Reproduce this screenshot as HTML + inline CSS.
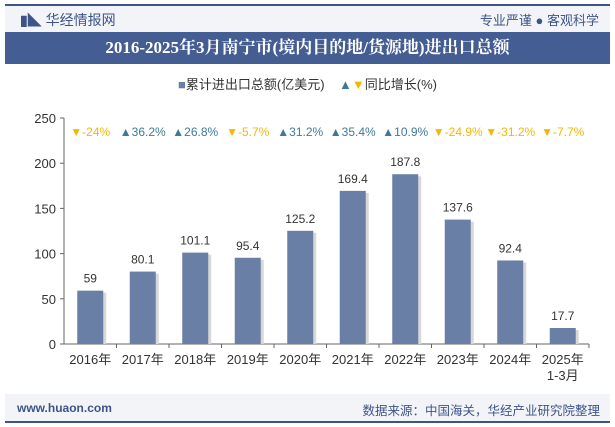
<!DOCTYPE html>
<html><head><meta charset="utf-8"><style>
body{margin:0;width:615px;height:427px;background:#fff;font-family:"Liberation Sans","Noto Sans CJK SC",sans-serif;overflow:hidden;position:relative}
.a{position:absolute}
</style></head><body>
<div class="a" style="left:5px;top:4px;width:605px;height:2px;background:#3e5488"></div>
<div class="a" style="left:5px;top:6px;width:605px;height:26px;background:#f2f4f8"></div>
<div class="a" style="left:20px;top:10px;font-size:14px;color:#3e5488"><span style="font-weight:bold">▮◣</span> 华经情报网</div>
<div class="a" style="right:16px;top:10px;font-size:13px;color:#3e5488">专业严谨 ● 客观科学</div>
<div class="a" style="left:5px;top:32px;width:605px;height:32px;background:#445d92;color:#fff;font-weight:bold;font-size:17px;line-height:32px;text-align:center;font-family:'Liberation Serif','Noto Serif CJK SC',serif">2016-2025年3月南宁市(境内目的地/货源地)进出口总额</div>
<div class="a" style="left:0;width:615px;top:74px;text-align:center;font-size:13px;color:#333"><span style="color:#6a7fa6">■</span>累计进出口总额(亿美元) &nbsp;&nbsp;&nbsp;<span style="color:#3d7a99">▲</span><span style="color:#f5b800">▼</span>同比增长(%)</div>
<svg class="a" style="left:0;top:0" width="615" height="427" id="chart"></svg>
<div class="a" style="left:5px;top:394px;width:605px;height:28px;background:#f2f4f8"></div>
<div class="a" style="left:5px;top:421px;width:605px;height:2px;background:#3e5488"></div>
<div class="a" style="left:17px;top:401px;font-size:12px;color:#3e5488;font-weight:bold">www.huaon.com</div>
<div class="a" style="right:15px;top:400px;font-size:12.5px;color:#3e5488">数据来源：中国海关，华经产业研究院整理</div>
<script>
const categories=["2016年","2017年","2018年","2019年","2020年","2021年","2022年","2023年","2024年","2025年"];
const values=[59,80.1,101.1,95.4,125.2,169.4,187.8,137.6,92.4,17.7];
const growth=[-24,36.2,26.8,-5.7,31.2,35.4,10.9,-24.9,-31.2,-7.7];
const yTicks=[0,50,100,150,200,250];
const NS="http://www.w3.org/2000/svg",svg=document.getElementById('chart');
const x0=64,x1=589,yb=344,yt=118,ymax=250;
const bw=(x1-x0)/categories.length;
const Y=v=>yb-(v/ymax)*(yb-yt);
const X=i=>x0+bw*(i+0.5);
function mk(t,a,txt){const e=document.createElementNS(NS,t);for(const k in a)e.setAttribute(k,a[k]);if(txt!==undefined)e.textContent=txt;svg.appendChild(e);return e;}
let ax=mk('line',{x1:x0,y1:yt,x2:x0,y2:yb,stroke:'#666'});

yTicks.forEach(v=>{
 let t=mk('text',{x:x0-8,y:Y(v)+5,'text-anchor':'end','font-size':13,fill:'#333'},v);
 
 mk('line',{x1:x0-4,y1:Y(v),x2:x0,y2:Y(v),stroke:'#666'});
});
let xa=mk('line',{x1:x0,y1:yb,x2:x1,y2:yb,stroke:'#666'});

categories.forEach((c,i)=>{
 mk('line',{x1:x0+bw*(i+1),y1:yb,x2:x0+bw*(i+1),y2:yb+4,stroke:'#666'});
 const cx=X(i),v=values[i];
 mk('rect',{x:cx-13+3,y:Y(v)+2,width:26,height:yb-Y(v)-2,fill:'#d8d8d8'});
 let b=mk('rect',{x:cx-13,y:Y(v),width:26,height:yb-Y(v),fill:'#6a7fa6'});
 
 let l=mk('text',{x:cx,y:Y(v)-8,'text-anchor':'middle','font-size':12,fill:'#333'},v);
 
 let xl=mk('text',{x:cx,y:yb+20,'text-anchor':'middle','font-size':13,fill:'#333'},c);
 
 if(i===categories.length-1){let s=mk('text',{x:cx,y:yb+36,'text-anchor':'middle','font-size':13,fill:'#333'},'1-3月');}
 const g=growth[i],up=g>=0;
 let gl=mk('text',{x:cx,y:136,'text-anchor':'middle','font-size':12,fill:up?'#3d7a99':'#f5b800'},(up?'▲':'▼')+g+'%');
 
});
</script>
</body></html>
